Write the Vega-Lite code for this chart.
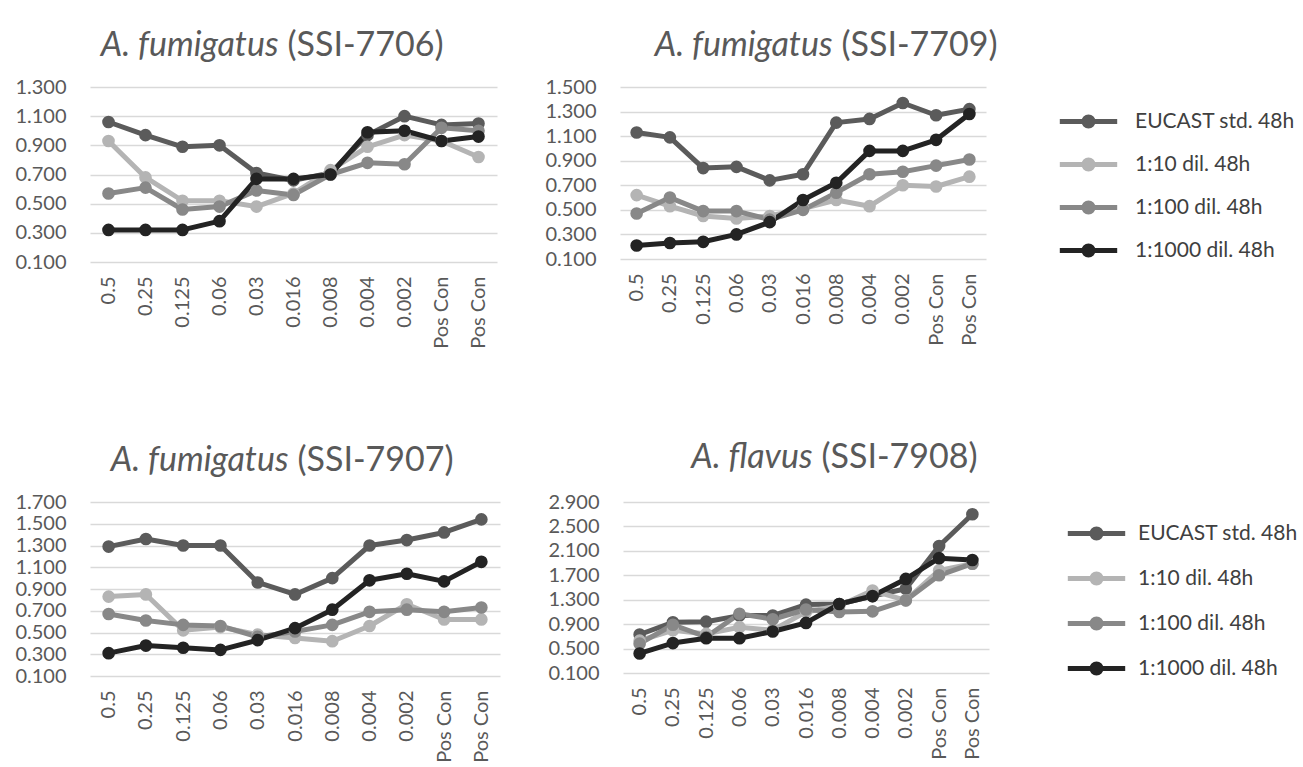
{
  "$schema": "https://vega.github.io/schema/vega-lite/v6.json",
  "padding": {"left": 14, "top": 28, "right": 5, "bottom": 5},
  "background": "white",
  "datasets": {
    "s7706": [
      {"conc": "0.5", "series": "EUCAST std. 48h", "od": 1.06},
      {"conc": "0.25", "series": "EUCAST std. 48h", "od": 0.97},
      {"conc": "0.125", "series": "EUCAST std. 48h", "od": 0.89},
      {"conc": "0.06", "series": "EUCAST std. 48h", "od": 0.90},
      {"conc": "0.03", "series": "EUCAST std. 48h", "od": 0.71},
      {"conc": "0.016", "series": "EUCAST std. 48h", "od": 0.66},
      {"conc": "0.008", "series": "EUCAST std. 48h", "od": 0.71},
      {"conc": "0.004", "series": "EUCAST std. 48h", "od": 0.97},
      {"conc": "0.002", "series": "EUCAST std. 48h", "od": 1.10},
      {"conc": "Pos Con", "series": "EUCAST std. 48h", "od": 1.04},
      {"conc": "Pos Con\u200b", "series": "EUCAST std. 48h", "od": 1.05},
      {"conc": "0.5", "series": "1:10 dil. 48h", "od": 0.93},
      {"conc": "0.25", "series": "1:10 dil. 48h", "od": 0.68},
      {"conc": "0.125", "series": "1:10 dil. 48h", "od": 0.52},
      {"conc": "0.06", "series": "1:10 dil. 48h", "od": 0.52},
      {"conc": "0.03", "series": "1:10 dil. 48h", "od": 0.48},
      {"conc": "0.016", "series": "1:10 dil. 48h", "od": 0.57},
      {"conc": "0.008", "series": "1:10 dil. 48h", "od": 0.73},
      {"conc": "0.004", "series": "1:10 dil. 48h", "od": 0.89},
      {"conc": "0.002", "series": "1:10 dil. 48h", "od": 0.97},
      {"conc": "Pos Con", "series": "1:10 dil. 48h", "od": 0.93},
      {"conc": "Pos Con\u200b", "series": "1:10 dil. 48h", "od": 0.82},
      {"conc": "0.5", "series": "1:100 dil. 48h", "od": 0.57},
      {"conc": "0.25", "series": "1:100 dil. 48h", "od": 0.61},
      {"conc": "0.125", "series": "1:100 dil. 48h", "od": 0.46},
      {"conc": "0.06", "series": "1:100 dil. 48h", "od": 0.48},
      {"conc": "0.03", "series": "1:100 dil. 48h", "od": 0.59},
      {"conc": "0.016", "series": "1:100 dil. 48h", "od": 0.56},
      {"conc": "0.008", "series": "1:100 dil. 48h", "od": 0.70},
      {"conc": "0.004", "series": "1:100 dil. 48h", "od": 0.78},
      {"conc": "0.002", "series": "1:100 dil. 48h", "od": 0.77},
      {"conc": "Pos Con", "series": "1:100 dil. 48h", "od": 1.02},
      {"conc": "Pos Con\u200b", "series": "1:100 dil. 48h", "od": 1.00},
      {"conc": "0.5", "series": "1:1000 dil. 48h", "od": 0.32},
      {"conc": "0.25", "series": "1:1000 dil. 48h", "od": 0.32},
      {"conc": "0.125", "series": "1:1000 dil. 48h", "od": 0.32},
      {"conc": "0.06", "series": "1:1000 dil. 48h", "od": 0.38},
      {"conc": "0.03", "series": "1:1000 dil. 48h", "od": 0.67},
      {"conc": "0.016", "series": "1:1000 dil. 48h", "od": 0.67},
      {"conc": "0.008", "series": "1:1000 dil. 48h", "od": 0.70},
      {"conc": "0.004", "series": "1:1000 dil. 48h", "od": 0.99},
      {"conc": "0.002", "series": "1:1000 dil. 48h", "od": 1.00},
      {"conc": "Pos Con", "series": "1:1000 dil. 48h", "od": 0.93},
      {"conc": "Pos Con\u200b", "series": "1:1000 dil. 48h", "od": 0.96}
    ],
    "s7709": [
      {"conc": "0.5", "series": "EUCAST std. 48h", "od": 1.13},
      {"conc": "0.25", "series": "EUCAST std. 48h", "od": 1.09},
      {"conc": "0.125", "series": "EUCAST std. 48h", "od": 0.84},
      {"conc": "0.06", "series": "EUCAST std. 48h", "od": 0.85},
      {"conc": "0.03", "series": "EUCAST std. 48h", "od": 0.74},
      {"conc": "0.016", "series": "EUCAST std. 48h", "od": 0.79},
      {"conc": "0.008", "series": "EUCAST std. 48h", "od": 1.21},
      {"conc": "0.004", "series": "EUCAST std. 48h", "od": 1.24},
      {"conc": "0.002", "series": "EUCAST std. 48h", "od": 1.37},
      {"conc": "Pos Con", "series": "EUCAST std. 48h", "od": 1.27},
      {"conc": "Pos Con\u200b", "series": "EUCAST std. 48h", "od": 1.32},
      {"conc": "0.5", "series": "1:10 dil. 48h", "od": 0.62},
      {"conc": "0.25", "series": "1:10 dil. 48h", "od": 0.53},
      {"conc": "0.125", "series": "1:10 dil. 48h", "od": 0.45},
      {"conc": "0.06", "series": "1:10 dil. 48h", "od": 0.43},
      {"conc": "0.03", "series": "1:10 dil. 48h", "od": 0.45},
      {"conc": "0.016", "series": "1:10 dil. 48h", "od": 0.51},
      {"conc": "0.008", "series": "1:10 dil. 48h", "od": 0.58},
      {"conc": "0.004", "series": "1:10 dil. 48h", "od": 0.53},
      {"conc": "0.002", "series": "1:10 dil. 48h", "od": 0.70},
      {"conc": "Pos Con", "series": "1:10 dil. 48h", "od": 0.69},
      {"conc": "Pos Con\u200b", "series": "1:10 dil. 48h", "od": 0.77},
      {"conc": "0.5", "series": "1:100 dil. 48h", "od": 0.47},
      {"conc": "0.25", "series": "1:100 dil. 48h", "od": 0.60},
      {"conc": "0.125", "series": "1:100 dil. 48h", "od": 0.49},
      {"conc": "0.06", "series": "1:100 dil. 48h", "od": 0.49},
      {"conc": "0.03", "series": "1:100 dil. 48h", "od": 0.42},
      {"conc": "0.016", "series": "1:100 dil. 48h", "od": 0.50},
      {"conc": "0.008", "series": "1:100 dil. 48h", "od": 0.64},
      {"conc": "0.004", "series": "1:100 dil. 48h", "od": 0.79},
      {"conc": "0.002", "series": "1:100 dil. 48h", "od": 0.81},
      {"conc": "Pos Con", "series": "1:100 dil. 48h", "od": 0.86},
      {"conc": "Pos Con\u200b", "series": "1:100 dil. 48h", "od": 0.91},
      {"conc": "0.5", "series": "1:1000 dil. 48h", "od": 0.21},
      {"conc": "0.25", "series": "1:1000 dil. 48h", "od": 0.23},
      {"conc": "0.125", "series": "1:1000 dil. 48h", "od": 0.24},
      {"conc": "0.06", "series": "1:1000 dil. 48h", "od": 0.30},
      {"conc": "0.03", "series": "1:1000 dil. 48h", "od": 0.40},
      {"conc": "0.016", "series": "1:1000 dil. 48h", "od": 0.58},
      {"conc": "0.008", "series": "1:1000 dil. 48h", "od": 0.72},
      {"conc": "0.004", "series": "1:1000 dil. 48h", "od": 0.98},
      {"conc": "0.002", "series": "1:1000 dil. 48h", "od": 0.98},
      {"conc": "Pos Con", "series": "1:1000 dil. 48h", "od": 1.07},
      {"conc": "Pos Con\u200b", "series": "1:1000 dil. 48h", "od": 1.28}
    ],
    "s7907": [
      {"conc": "0.5", "series": "EUCAST std. 48h", "od": 1.29},
      {"conc": "0.25", "series": "EUCAST std. 48h", "od": 1.36},
      {"conc": "0.125", "series": "EUCAST std. 48h", "od": 1.30},
      {"conc": "0.06", "series": "EUCAST std. 48h", "od": 1.30},
      {"conc": "0.03", "series": "EUCAST std. 48h", "od": 0.96},
      {"conc": "0.016", "series": "EUCAST std. 48h", "od": 0.85},
      {"conc": "0.008", "series": "EUCAST std. 48h", "od": 1.00},
      {"conc": "0.004", "series": "EUCAST std. 48h", "od": 1.30},
      {"conc": "0.002", "series": "EUCAST std. 48h", "od": 1.35},
      {"conc": "Pos Con", "series": "EUCAST std. 48h", "od": 1.42},
      {"conc": "Pos Con\u200b", "series": "EUCAST std. 48h", "od": 1.54},
      {"conc": "0.5", "series": "1:10 dil. 48h", "od": 0.83},
      {"conc": "0.25", "series": "1:10 dil. 48h", "od": 0.85},
      {"conc": "0.125", "series": "1:10 dil. 48h", "od": 0.52},
      {"conc": "0.06", "series": "1:10 dil. 48h", "od": 0.55},
      {"conc": "0.03", "series": "1:10 dil. 48h", "od": 0.48},
      {"conc": "0.016", "series": "1:10 dil. 48h", "od": 0.45},
      {"conc": "0.008", "series": "1:10 dil. 48h", "od": 0.42},
      {"conc": "0.004", "series": "1:10 dil. 48h", "od": 0.56},
      {"conc": "0.002", "series": "1:10 dil. 48h", "od": 0.76},
      {"conc": "Pos Con", "series": "1:10 dil. 48h", "od": 0.62},
      {"conc": "Pos Con\u200b", "series": "1:10 dil. 48h", "od": 0.62},
      {"conc": "0.5", "series": "1:100 dil. 48h", "od": 0.67},
      {"conc": "0.25", "series": "1:100 dil. 48h", "od": 0.61},
      {"conc": "0.125", "series": "1:100 dil. 48h", "od": 0.57},
      {"conc": "0.06", "series": "1:100 dil. 48h", "od": 0.56},
      {"conc": "0.03", "series": "1:100 dil. 48h", "od": 0.46},
      {"conc": "0.016", "series": "1:100 dil. 48h", "od": 0.51},
      {"conc": "0.008", "series": "1:100 dil. 48h", "od": 0.57},
      {"conc": "0.004", "series": "1:100 dil. 48h", "od": 0.69},
      {"conc": "0.002", "series": "1:100 dil. 48h", "od": 0.71},
      {"conc": "Pos Con", "series": "1:100 dil. 48h", "od": 0.69},
      {"conc": "Pos Con\u200b", "series": "1:100 dil. 48h", "od": 0.73},
      {"conc": "0.5", "series": "1:1000 dil. 48h", "od": 0.31},
      {"conc": "0.25", "series": "1:1000 dil. 48h", "od": 0.38},
      {"conc": "0.125", "series": "1:1000 dil. 48h", "od": 0.36},
      {"conc": "0.06", "series": "1:1000 dil. 48h", "od": 0.34},
      {"conc": "0.03", "series": "1:1000 dil. 48h", "od": 0.43},
      {"conc": "0.016", "series": "1:1000 dil. 48h", "od": 0.54},
      {"conc": "0.008", "series": "1:1000 dil. 48h", "od": 0.71},
      {"conc": "0.004", "series": "1:1000 dil. 48h", "od": 0.98},
      {"conc": "0.002", "series": "1:1000 dil. 48h", "od": 1.04},
      {"conc": "Pos Con", "series": "1:1000 dil. 48h", "od": 0.97},
      {"conc": "Pos Con\u200b", "series": "1:1000 dil. 48h", "od": 1.15}
    ],
    "s7908": [
      {"conc": "0.5", "series": "EUCAST std. 48h", "od": 0.73},
      {"conc": "0.25", "series": "EUCAST std. 48h", "od": 0.93},
      {"conc": "0.125", "series": "EUCAST std. 48h", "od": 0.94},
      {"conc": "0.06", "series": "EUCAST std. 48h", "od": 1.04},
      {"conc": "0.03", "series": "EUCAST std. 48h", "od": 1.04},
      {"conc": "0.016", "series": "EUCAST std. 48h", "od": 1.22},
      {"conc": "0.008", "series": "EUCAST std. 48h", "od": 1.23},
      {"conc": "0.004", "series": "EUCAST std. 48h", "od": 1.36},
      {"conc": "0.002", "series": "EUCAST std. 48h", "od": 1.48},
      {"conc": "Pos Con", "series": "EUCAST std. 48h", "od": 2.18},
      {"conc": "Pos Con\u200b", "series": "EUCAST std. 48h", "od": 2.70},
      {"conc": "0.5", "series": "1:10 dil. 48h", "od": 0.63},
      {"conc": "0.25", "series": "1:10 dil. 48h", "od": 0.80},
      {"conc": "0.125", "series": "1:10 dil. 48h", "od": 0.74},
      {"conc": "0.06", "series": "1:10 dil. 48h", "od": 0.85},
      {"conc": "0.03", "series": "1:10 dil. 48h", "od": 0.80},
      {"conc": "0.016", "series": "1:10 dil. 48h", "od": 1.10},
      {"conc": "0.008", "series": "1:10 dil. 48h", "od": 1.20},
      {"conc": "0.004", "series": "1:10 dil. 48h", "od": 1.45},
      {"conc": "0.002", "series": "1:10 dil. 48h", "od": 1.29},
      {"conc": "Pos Con", "series": "1:10 dil. 48h", "od": 1.78},
      {"conc": "Pos Con\u200b", "series": "1:10 dil. 48h", "od": 1.89},
      {"conc": "0.5", "series": "1:100 dil. 48h", "od": 0.58},
      {"conc": "0.25", "series": "1:100 dil. 48h", "od": 0.89},
      {"conc": "0.125", "series": "1:100 dil. 48h", "od": 0.69},
      {"conc": "0.06", "series": "1:100 dil. 48h", "od": 1.07},
      {"conc": "0.03", "series": "1:100 dil. 48h", "od": 0.98},
      {"conc": "0.016", "series": "1:100 dil. 48h", "od": 1.14},
      {"conc": "0.008", "series": "1:100 dil. 48h", "od": 1.10},
      {"conc": "0.004", "series": "1:100 dil. 48h", "od": 1.11},
      {"conc": "0.002", "series": "1:100 dil. 48h", "od": 1.29},
      {"conc": "Pos Con", "series": "1:100 dil. 48h", "od": 1.70},
      {"conc": "Pos Con\u200b", "series": "1:100 dil. 48h", "od": 1.89},
      {"conc": "0.5", "series": "1:1000 dil. 48h", "od": 0.42},
      {"conc": "0.25", "series": "1:1000 dil. 48h", "od": 0.59},
      {"conc": "0.125", "series": "1:1000 dil. 48h", "od": 0.67},
      {"conc": "0.06", "series": "1:1000 dil. 48h", "od": 0.67},
      {"conc": "0.03", "series": "1:1000 dil. 48h", "od": 0.78},
      {"conc": "0.016", "series": "1:1000 dil. 48h", "od": 0.92},
      {"conc": "0.008", "series": "1:1000 dil. 48h", "od": 1.23},
      {"conc": "0.004", "series": "1:1000 dil. 48h", "od": 1.36},
      {"conc": "0.002", "series": "1:1000 dil. 48h", "od": 1.64},
      {"conc": "Pos Con", "series": "1:1000 dil. 48h", "od": 1.98},
      {"conc": "Pos Con\u200b", "series": "1:1000 dil. 48h", "od": 1.95}
    ]
  },
  "config": {
    "font": "Lato",
    "view": {"stroke": null},
    "axis": {
      "labelFont": "Lato", "labelFontSize": 20, "labelColor": "#595959",
      "titleFont": "Lato", "titleFontSize": 34, "titleFontWeight": "normal", "titleColor": "#595959",
      "titleAngle": 0, "titleBaseline": "alphabetic",
      "domain": false, "ticks": false,
      "gridColor": "#d9d9d9", "gridWidth": 1.6
    },
    "axisX": {"labelAngle": 270, "labelPadding": 14, "grid": false, "titleAlign": "left"},
    "axisY": {"labelPadding": 24, "grid": true, "format": ".3f", "titleAlign": "right", "titleFontStyle": "italic"},
    "legend": {
      "title": null, "orient": "none",
      "labelFont": "Lato", "labelFontSize": 21, "labelColor": "#404040", "labelLimit": 300,
      "symbolType": "M -4.1 0 L 4.1 0 M -0.65 0 A 0.65 0.65 0 1 0 0.65 0 A 0.65 0.65 0 1 0 -0.65 0 Z M -0.3 0 A 0.3 0.3 0 1 0 0.3 0 A 0.3 0.3 0 1 0 -0.3 0 Z",
      "symbolSize": 196, "symbolStrokeWidth": 5, "symbolOpacity": 1, "padding": 0
    },
    "line": {"strokeWidth": 5, "strokeJoin": "round", "strokeCap": "round"}
  },
  "resolve": {"scale": {"color": "independent", "x": "independent", "y": "independent"}, "legend": {"color": "independent"}},
  "spacing": 91,
  "vconcat": [
    {
      "spacing": 47,
      "resolve": {"scale": {"color": "independent", "x": "independent", "y": "independent"}, "legend": {"color": "independent"}},
      "hconcat": [
        {
          "width": 407, "height": 175,
          "data": {"name": "s7706"},
          "mark": {"type": "line", "point": {"filled": true, "size": 160, "opacity": 1}},
          "encoding": {
            "x": {"field": "conc", "type": "ordinal", "sort": ["0.5", "0.25", "0.125", "0.06", "0.03", "0.016", "0.008", "0.004", "0.002", "Pos Con", "Pos Con\u200b"], "scale": {"type": "point", "padding": 0.5}, "axis": {"title": "(SSI-7706)", "titleX": 197, "titleY": -207}},
            "y": {"field": "od", "type": "quantitative", "scale": {"domain": [0.1, 1.3], "nice": false, "zero": false}, "axis": {"values": [0.1, 0.3, 0.5, 0.7, 0.9, 1.1, 1.3], "title": "A. fumigatus", "titleX": 188, "titleY": -32}},
            "color": {"field": "series", "type": "nominal", "sort": ["EUCAST std. 48h", "1:10 dil. 48h", "1:100 dil. 48h", "1:1000 dil. 48h"], "scale": {"domain": ["EUCAST std. 48h", "1:10 dil. 48h", "1:100 dil. 48h", "1:1000 dil. 48h"], "range": ["#5b5b5b", "#b4b4b4", "#888888", "#232323"]}, "legend": null}
          }
        },
        {
          "width": 366, "height": 172,
          "data": {"name": "s7709"},
          "mark": {"type": "line", "point": {"filled": true, "size": 160, "opacity": 1}},
          "encoding": {
            "x": {"field": "conc", "type": "ordinal", "sort": ["0.5", "0.25", "0.125", "0.06", "0.03", "0.016", "0.008", "0.004", "0.002", "Pos Con", "Pos Con\u200b"], "scale": {"type": "point", "padding": 0.5}, "axis": {"title": "(SSI-7709)", "titleX": 221, "titleY": -204}},
            "y": {"field": "od", "type": "quantitative", "scale": {"domain": [0.1, 1.5], "nice": false, "zero": false}, "axis": {"values": [0.1, 0.3, 0.5, 0.7, 0.9, 1.1, 1.3, 1.5], "title": "A. fumigatus", "titleX": 212, "titleY": -32}},
            "color": {"field": "series", "type": "nominal", "sort": ["EUCAST std. 48h", "1:10 dil. 48h", "1:100 dil. 48h", "1:1000 dil. 48h"], "scale": {"domain": ["EUCAST std. 48h", "1:10 dil. 48h", "1:100 dil. 48h", "1:1000 dil. 48h"], "range": ["#5b5b5b", "#b4b4b4", "#888888", "#232323"]}, "legend": {"legendX": 458, "legendY": 24, "labelOffset": 36, "rowPadding": 21}}
          }
        }
      ]
    },
    {
      "spacing": 47,
      "resolve": {"scale": {"color": "independent", "x": "independent", "y": "independent"}, "legend": {"color": "independent"}},
      "hconcat": [
        {
          "width": 410, "height": 174,
          "data": {"name": "s7907"},
          "mark": {"type": "line", "point": {"filled": true, "size": 160, "opacity": 1}},
          "encoding": {
            "x": {"field": "conc", "type": "ordinal", "sort": ["0.5", "0.25", "0.125", "0.06", "0.03", "0.016", "0.008", "0.004", "0.002", "Pos Con", "Pos Con\u200b"], "scale": {"type": "point", "padding": 0.5}, "axis": {"title": "(SSI-7907)", "titleX": 207, "titleY": -206}},
            "y": {"field": "od", "type": "quantitative", "scale": {"domain": [0.1, 1.7], "nice": false, "zero": false}, "axis": {"values": [0.1, 0.3, 0.5, 0.7, 0.9, 1.1, 1.3, 1.5, 1.7], "title": "A. fumigatus", "titleX": 198, "titleY": -32}},
            "color": {"field": "series", "type": "nominal", "sort": ["EUCAST std. 48h", "1:10 dil. 48h", "1:100 dil. 48h", "1:1000 dil. 48h"], "scale": {"domain": ["EUCAST std. 48h", "1:10 dil. 48h", "1:100 dil. 48h", "1:1000 dil. 48h"], "range": ["#5b5b5b", "#b4b4b4", "#888888", "#232323"]}, "legend": null}
          }
        },
        {
          "width": 366, "height": 171,
          "data": {"name": "s7908"},
          "mark": {"type": "line", "point": {"filled": true, "size": 160, "opacity": 1}},
          "encoding": {
            "x": {"field": "conc", "type": "ordinal", "sort": ["0.5", "0.25", "0.125", "0.06", "0.03", "0.016", "0.008", "0.004", "0.002", "Pos Con", "Pos Con\u200b"], "scale": {"type": "point", "padding": 0.5}, "axis": {"title": "(SSI-7908)", "titleX": 198, "titleY": -206}},
            "y": {"field": "od", "type": "quantitative", "scale": {"domain": [0.1, 2.9], "nice": false, "zero": false}, "axis": {"values": [0.1, 0.5, 0.9, 1.3, 1.7, 2.1, 2.5, 2.9], "title": "A. flavus", "titleX": 189, "titleY": -35}},
            "color": {"field": "series", "type": "nominal", "sort": ["EUCAST std. 48h", "1:10 dil. 48h", "1:100 dil. 48h", "1:1000 dil. 48h"], "scale": {"domain": ["EUCAST std. 48h", "1:10 dil. 48h", "1:100 dil. 48h", "1:1000 dil. 48h"], "range": ["#5b5b5b", "#b4b4b4", "#888888", "#232323"]}, "legend": {"legendX": 463, "legendY": 21, "labelOffset": 31, "rowPadding": 23}}
          }
        }
      ]
    }
  ]
}
